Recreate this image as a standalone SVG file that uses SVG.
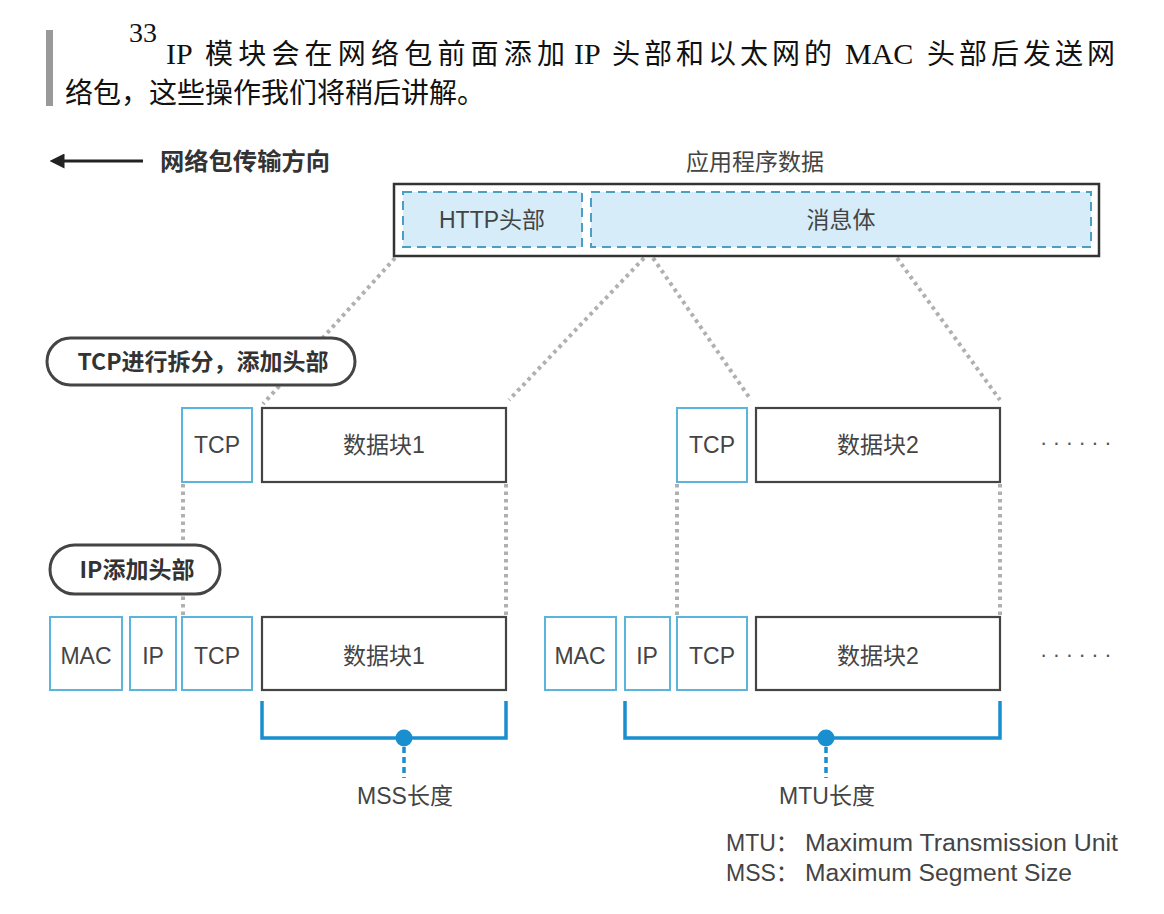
<svg xmlns="http://www.w3.org/2000/svg" width="1164" height="914" viewBox="0 0 1164 914">
<defs>
<style>
.serif{font-family:"Liberation Serif","Noto Sans CJK SC",serif;fill:#111;font-size:28px;}
.lbl{font-family:"Liberation Sans","Noto Sans CJK SC",sans-serif;fill:#444;font-size:23px;text-anchor:middle;}
.lft{text-anchor:start;}
.bold{font-family:"Noto Sans CJK SC","Liberation Sans",sans-serif;font-weight:bold;fill:#333;}
.blue{fill:#fff;stroke:#5ab4dc;stroke-width:2;}
.blk{fill:#fff;stroke:#444;stroke-width:2.2;}
.dash{fill:#d6ecf8;stroke:#4c9fc2;stroke-width:2;stroke-dasharray:9 6;}
.dot{stroke:#b0b0b0;stroke-width:4;stroke-dasharray:3.5 4;fill:none;}
.pill{fill:#fff;stroke:#444;stroke-width:3;}
.brk{fill:none;stroke:#1a8fd0;stroke-width:3.5;}
.ell{font-family:"Liberation Sans",sans-serif;fill:#555;font-size:22px;letter-spacing:5.5px;}
</style>
<marker id="ah" viewBox="0 0 10 10" refX="1" refY="5" markerWidth="5" markerHeight="5" orient="auto-start-reverse">
<path d="M0,0 L10,5 L0,10 z" fill="#222"/>
</marker>
</defs>
<rect width="1164" height="914" fill="#fff"/>

<g id="note">
<rect x="46" y="30" width="7" height="76" fill="#999"/>
<text class="serif" x="129" y="42" font-size="24">33</text>
<text class="serif" y="64"><tspan x="166" font-size="30">IP</tspan><tspan x="205" textLength="360" lengthAdjust="spacing">模块会在网络包前面添加</tspan><tspan x="574" font-size="30">IP</tspan><tspan x="612" textLength="220" lengthAdjust="spacing">头部和以太网的</tspan><tspan x="845" font-size="30">MAC</tspan><tspan x="927" textLength="188" lengthAdjust="spacing">头部后发送网</tspan></text>
<text class="serif" x="65" y="103">络包，这些操作我们将稍后讲解。</text>
</g>

<g id="direction">
<line x1="63" y1="161" x2="143" y2="161" stroke="#222" stroke-width="3" marker-start="url(#ah)"/>
<text class="bold" x="160" y="170" font-size="24" textLength="170" lengthAdjust="spacingAndGlyphs">网络包传输方向</text>
</g>

<g id="connectors">
<line class="dot" x1="395" y1="258" x2="263" y2="404"/>
<line class="dot" x1="644" y1="258" x2="509" y2="400"/>
<line class="dot" x1="653" y1="258" x2="751" y2="400"/>
<line class="dot" x1="897" y1="258" x2="1000" y2="400"/>
<line class="dot" x1="183" y1="484" x2="183" y2="616"/>
<line class="dot" x1="506" y1="484" x2="506" y2="616"/>
<line class="dot" x1="677" y1="484" x2="677" y2="616"/>
<line class="dot" x1="1000" y1="484" x2="1000" y2="616"/>
</g>

<g id="app-data">
<text class="lbl" x="755" y="170" font-size="24">应用程序数据</text>
<rect x="394" y="184" width="705" height="72" fill="#fff" stroke="#333" stroke-width="2.5"/>
<rect class="dash" x="403" y="192" width="179" height="55"/>
<rect class="dash" x="591" y="192" width="500" height="55"/>
<text class="lbl" x="492" y="228">HTTP头部</text>
<text class="lbl" x="841" y="228">消息体</text>
</g>

<g id="tcp-step">
<rect class="pill" x="47" y="338" width="308" height="47" rx="23.5"/>
<text class="bold" x="203" y="370" font-size="23" text-anchor="middle">TCP进行拆分，添加头部</text>
</g>

<g id="tcp-seg1">
<rect class="blue" x="182" y="408" width="70" height="74"/>
<text class="lbl" x="217" y="453">TCP</text>
<rect class="blk" x="262" y="408" width="244" height="74"/>
<text class="lbl" x="384" y="453">数据块1</text>
</g>

<g id="tcp-seg2">
<rect class="blue" x="677" y="408" width="70" height="74"/>
<text class="lbl" x="712" y="453">TCP</text>
<rect class="blk" x="756" y="408" width="244" height="74"/>
<text class="lbl" x="878" y="453">数据块2</text>
<text class="ell" x="1040" y="450">······</text>
</g>

<g id="ip-step">
<rect class="pill" x="50" y="545" width="170" height="49" rx="24.5"/>
<text class="bold" x="137" y="578" font-size="23" text-anchor="middle">IP添加头部</text>
</g>

<g id="pkt1">
<rect class="blue" x="50" y="617" width="72" height="73"/>
<text class="lbl" x="86" y="664">MAC</text>
<rect class="blue" x="130" y="617" width="46" height="73"/>
<text class="lbl" x="153" y="664">IP</text>
<rect class="blue" x="182" y="617" width="70" height="73"/>
<text class="lbl" x="217" y="664">TCP</text>
<rect class="blk" x="262" y="617" width="244" height="73"/>
<text class="lbl" x="384" y="664">数据块1</text>
</g>

<g id="pkt2">
<rect class="blue" x="545" y="617" width="71" height="73"/>
<text class="lbl" x="580" y="664">MAC</text>
<rect class="blue" x="625" y="617" width="45" height="73"/>
<text class="lbl" x="647" y="664">IP</text>
<rect class="blue" x="677" y="617" width="70" height="73"/>
<text class="lbl" x="712" y="664">TCP</text>
<rect class="blk" x="756" y="617" width="244" height="73"/>
<text class="lbl" x="878" y="664">数据块2</text>
<text class="ell" x="1040" y="662">······</text>
</g>

<g id="mss">
<path class="brk" d="M262,701 V738 H506 V701"/>
<circle cx="404" cy="738" r="8.5" fill="#1a8fd0"/>
<line x1="404" y1="747" x2="404" y2="778" stroke="#1a8fd0" stroke-width="3.5" stroke-dasharray="6 4"/>
<text class="lbl" x="405" y="804" font-size="24">MSS长度</text>
</g>

<g id="mtu">
<path class="brk" d="M625,701 V738 H1000 V701"/>
<circle cx="826" cy="738" r="8.5" fill="#1a8fd0"/>
<line x1="826" y1="747" x2="826" y2="778" stroke="#1a8fd0" stroke-width="3.5" stroke-dasharray="6 4"/>
<text class="lbl" x="827" y="804" font-size="24">MTU长度</text>
</g>

<g id="legend">
<text class="lbl lft" x="726" y="851">MTU：</text>
<text class="lbl lft" x="805" y="851" textLength="313" lengthAdjust="spacingAndGlyphs">Maximum Transmission Unit</text>
<text class="lbl lft" x="726" y="881">MSS：</text>
<text class="lbl lft" x="805" y="881" textLength="267" lengthAdjust="spacingAndGlyphs">Maximum Segment Size</text>
</g>
</svg>
